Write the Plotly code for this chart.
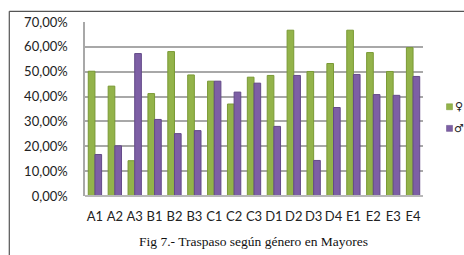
import plotly.graph_objects as go

categories = ["A1", "A2", "A3", "B1", "B2", "B3", "C1", "C2", "C3",
              "D1", "D2", "D3", "D4", "E1", "E2", "E3", "E4"]
female = [50.2, 44.2, 14.2, 41.2, 58.1, 48.7, 46.2, 37.0, 47.8,
          48.5, 66.7, 50.1, 53.3, 66.7, 57.7, 50.1, 59.7]
male = [16.7, 20.2, 57.3, 30.8, 25.1, 26.3, 46.2, 41.8, 45.4,
        28.0, 48.5, 14.3, 35.6, 48.9, 40.8, 40.5, 48.1]
series_names = ["♀", "♂"]
y_ticks = [0, 10, 20, 30, 40, 50, 60, 70]
y_tick_text = [f"{v:.2f}".replace(".", ",") + "%" for v in y_ticks]
caption = "Fig 7.- Traspaso según género en Mayores"

GREEN = "#93b34a"
PURPLE = "#7d5fa5"

fig = go.Figure()
fig.add_trace(go.Bar(x=categories, y=female, name=series_names[0],
                     marker=dict(color=GREEN, line=dict(color="#7a9a35", width=1))))
fig.add_trace(go.Bar(x=categories, y=male, name=series_names[1],
                     marker=dict(color=PURPLE, line=dict(color="#634a88", width=1))))

W, H = 464, 255
L, R, T, B = 85, 41, 22, 58.5
pw, ph = W - L - R, H - T - B

def px(x):
    return (x - L) / pw

def py(y):
    return (H - B - y) / ph

shapes = [
    dict(type="line", xref="paper", yref="paper", x0=px(9.3), x1=px(470), y0=py(11.3), y1=py(11.3),
         line=dict(color="#555555", width=1.2)),
    dict(type="line", xref="paper", yref="paper", x0=px(9.3), x1=px(9.3), y0=py(11.3), y1=py(270),
         line=dict(color="#555555", width=1.2)),
    dict(type="line", xref="paper", yref="paper", x0=0, x1=1, y0=0, y1=0,
         line=dict(color="#b8b8b8", width=2)),
    dict(type="rect", xref="paper", yref="paper", x0=px(446.5), x1=px(452.5), y0=py(104), y1=py(110),
         fillcolor=GREEN, line=dict(color="#7a9a35", width=0.5)),
    dict(type="rect", xref="paper", yref="paper", x0=px(446.5), x1=px(452.5), y0=py(125.7), y1=py(131.7),
         fillcolor=PURPLE, line=dict(color="#634a88", width=0.5)),
]

annotations = [
    dict(text=caption, xref="paper", yref="paper", x=px(253), y=py(242), showarrow=False,
         xanchor="center", yanchor="middle",
         font=dict(family="Liberation Serif", size=13.5, color="#111111")),
    dict(text=series_names[0], xref="paper", yref="paper", x=px(458.5), y=py(107), showarrow=False,
         xanchor="center", yanchor="middle", borderpad=0,
         font=dict(family="DejaVu Sans", size=11, color="#222222")),
    dict(text=series_names[1], xref="paper", yref="paper", x=px(458.5), y=py(129), showarrow=False,
         xanchor="center", yanchor="middle", borderpad=0,
         font=dict(family="DejaVu Sans", size=11, color="#222222")),
]

fig.update_layout(
    width=W, height=H,
    margin=dict(l=L, r=R, t=T, b=B, pad=0),
    paper_bgcolor="white", plot_bgcolor="white",
    barmode="group", bargap=0.33, bargroupgap=0.0,
    showlegend=False,
    shapes=shapes,
    annotations=annotations,
    font=dict(family="Lato", size=13, color="#222222"),
)
fig.update_yaxes(range=[0, 70], tickvals=y_ticks, ticktext=y_tick_text,
                 showgrid=True, gridcolor="#a8a8a8", gridwidth=1.5,
                 showline=True, linecolor="#a8a8a8", linewidth=1.5,
                 zeroline=False, ticks="", ticklabelstandoff=13,
                 tickfont=dict(family="Lato", size=13, color="#222222"))
fig.update_xaxes(showgrid=False, showline=False, ticks="", ticklabelstandoff=11,
                 tickfont=dict(family="Lato", size=13, color="#222222"))

fig.write_html("out.html", config={"displayModeBar": False},
               post_script="document.body.style.margin='0';document.body.style.overflow='hidden';")
